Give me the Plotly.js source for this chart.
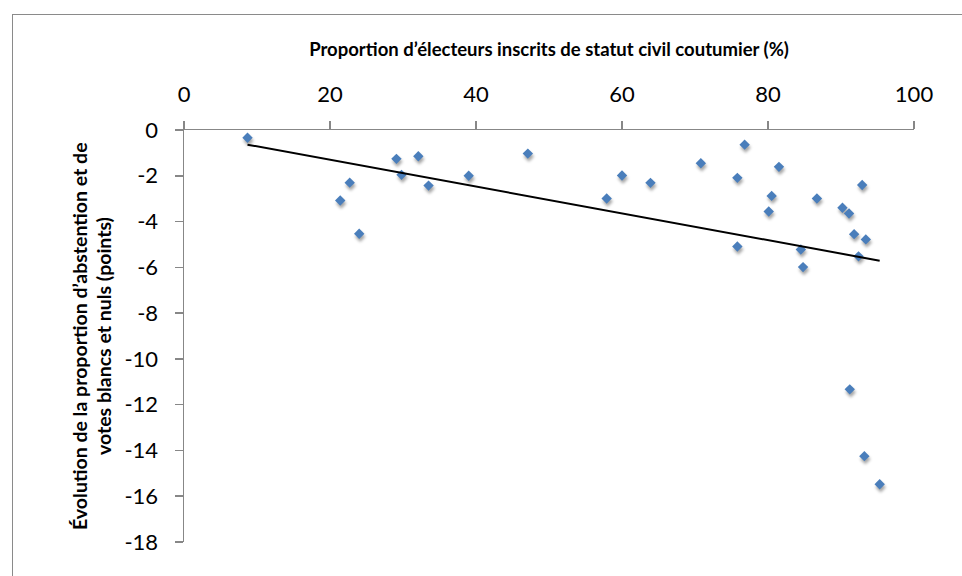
<!DOCTYPE html>
<html>
<head>
<meta charset="utf-8">
<script src="https://cdn.plot.ly/plotly-3.0.1.min.js"></script>
<style>
  html, body { margin: 0; padding: 0; width: 962px; height: 576px; overflow: hidden; background: #fff; }
  #frame { position: absolute; left: 12px; top: 14px; width: 1000px; height: 620px; border: 1.5px solid #8a8a8a; box-sizing: border-box; pointer-events: none; z-index: 5; }
  #chart { position: absolute; left: 0; top: 0; width: 962px; height: 576px; }
  .scatterlayer .trace:first-child .points path { filter: drop-shadow(1px 3px 1.5px rgba(0,0,0,0.35)); }
</style>
</head>
<body>
<div id="chart"></div>
<div id="frame"></div>
<script>
// Proportion of registered voters with customary civil status (%)
const xCoutumier = [8.7, 21.4, 22.7, 24.0, 29.1, 29.8, 32.1, 33.5, 39.0, 47.1,
                    57.9, 60.0, 63.9, 70.8, 75.8, 75.8, 76.8, 80.1, 80.5, 81.5,
                    84.5, 84.8, 86.7, 90.2, 91.1, 91.8, 92.4, 92.9, 93.4, 91.2,
                    93.2, 95.3];
// Change in abstention + blank/null votes (points)
const yEvolution = [-0.34, -3.08, -2.30, -4.53, -1.26, -1.96, -1.15, -2.43, -2.00, -1.03,
                    -2.99, -1.99, -2.31, -1.45, -2.09, -5.09, -0.64, -3.56, -2.88, -1.61,
                    -5.22, -5.99, -2.99, -3.40, -3.65, -4.55, -5.52, -2.40, -4.78, -11.33,
                    -14.25, -15.48];
// Linear trend line, end points
const trendX = [8.7, 95.3];
const trendY = [-0.64, -5.71];
const xTicks = [0, 20, 40, 60, 80, 100];
const yTicks = [0, -2, -4, -6, -8, -10, -12, -14, -16, -18];
const xTitle = "Proportion d\u2019électeurs inscrits de statut civil coutumier (%)";
const yTitleLines = ["Évolution de la proportion d\u2019abstention et de", "votes blancs et nuls (points)"];

const FONT = "Lato, 'Liberation Sans', sans-serif";
const AX = "#878787";

const data = [
  { x: xCoutumier, y: yEvolution, type: "scatter", mode: "markers",
    marker: { symbol: "diamond", size: 8, color: "#4A7EBB" }, hoverinfo: "x+y" },
  { x: trendX, y: trendY, type: "scatter", mode: "lines",
    line: { color: "#000000", width: 2 }, hoverinfo: "skip" }
];

const yTitleShifts = [-105, -81];
const annotations = yTitleLines.map((t, i) => ({
  text: "<b>" + t + "</b>", xref: "paper", yref: "paper", x: 0, y: 0.5,
  xanchor: "center", yanchor: "middle", xshift: yTitleShifts[i], textangle: -90,
  showarrow: false, font: { family: FONT, size: 19.5, color: "#000" }
}));

const layout = {
  width: 962, height: 576,
  margin: { l: 184, r: 48, t: 130, b: 34 },
  paper_bgcolor: "#ffffff", plot_bgcolor: "#ffffff",
  showlegend: false,
  font: { family: FONT, color: "#000" },
  annotations: annotations,
  xaxis: {
    side: "top", range: [0, 100], tickvals: xTicks, ticktext: xTicks.map(String),
    showgrid: false, zeroline: false, showline: true, linecolor: AX, linewidth: 1.5,
    ticks: "outside", ticklen: 8, tickcolor: AX, tickwidth: 1.5,
    tickfont: { family: FONT, size: 22, color: "#000" }, ticklabelstandoff: 10,
    title: { text: "<b>" + xTitle + "</b>", font: { family: FONT, size: 18.5, color: "#000" }, standoff: 18 }
  },
  yaxis: {
    range: [-18, 0], tickvals: yTicks, ticktext: yTicks.map(String),
    showgrid: false, zeroline: false, showline: true, linecolor: AX, linewidth: 1.5,
    ticks: "outside", ticklen: 8, tickcolor: AX, tickwidth: 1.5,
    tickfont: { family: FONT, size: 22, color: "#000" }, ticklabelstandoff: 12
  }
};

Plotly.newPlot("chart", data, layout, { displayModeBar: false, staticPlot: true });
</script>
</body>
</html>
